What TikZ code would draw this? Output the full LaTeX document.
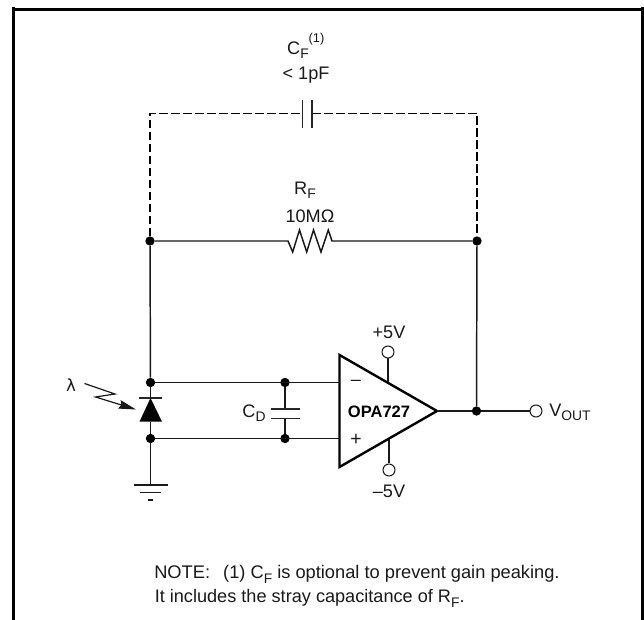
\documentclass[tikz,border=0pt]{standalone}
\usepackage{fontspec}
\setmainfont{Liberation Sans}
\usetikzlibrary{arrows.meta}
\newcommand{\sbs}[1]{\raisebox{-0.42ex}{\fontsize{10.4pt}{11pt}\selectfont #1}}
\newfontfamily\symfont{DejaVu Sans}
\tikzset{
  x=0.75pt,y=-0.75pt,
  wire/.style={line width=1.1pt,draw=black!90},
  dashwire/.style={line width=1.3pt,draw=black,dash pattern=on 6.4pt off 2.6pt},
  dot/.style={circle,fill=black,inner sep=0pt,minimum size=7pt},
  term/.style={circle,draw=black!90,fill=white,line width=0.75pt,inner sep=0pt,minimum size=9pt},
  lbl/.style={inner sep=0pt,font=\fontsize{13.6pt}{15pt}\selectfont,text=black!90},
  plate/.style={line width=1.1pt,draw=black!85},
  frameline/.style={line width=2.25pt,draw=black},
}
\begin{document}
\begin{tikzpicture}
\useasboundingbox (0,0) rectangle (644,620);
% frame
\draw[frameline] (13.5,620) -- (13.5,7.5);
\draw[frameline] (11.5,10) -- (642.5,10);
\draw[frameline] (642.5,7.5) -- (642.5,620);

% junctions
\node[dot] (j1) at (150,241) {};
\node[dot] (j2) at (477,241) {};
\node[dot] (j3) at (150.5,382.5) {};
\node[dot] (j4) at (285,382.5) {};
\node[dot] (j5) at (150.5,438.5) {};
\node[dot] (j6) at (285,438.5) {};
\node[dot] (j7) at (476.5,411) {};

% op amp
\coordinate (inm) at (339.5,382.5);
\coordinate (inp) at (339.5,438.5);
\coordinate (vp) at (388,383);
\coordinate (vm) at (389,438);
\coordinate (oa) at (437,411);
\node[term] (t5p) at (388,352) {};
\node[term] (t5m) at (389,470) {};
\node[term] (tout) at (536,411) {};
\draw[wire] (t5p) -- (vp);
\draw[wire] (t5m) -- (vm);
\draw[line width=1.8pt,line join=miter,fill=white] (339.5,355) -- (339.5,467) -- (oa) -- cycle;
\node[inner sep=0pt,font=\fontsize{12.4pt}{14pt}\selectfont\bfseries] (opa) at (379,411.5) {OPA727};
\node[lbl] (minus) at (356,383) {–};
\node[lbl,font=\fontsize{14.6pt}{15pt}\selectfont] (plus) at (356,439.5) {+};

% wires
\draw[wire] (j1) -- (j3);
\draw[wire] (j3) -- (inm);
\draw[wire] (j5) -- (inp);
\draw[wire] (oa) -- (j7) -- (tout);
\draw[wire] (j7) -- (j2);

% resistor
\coordinate (ra) at (288,241);
\coordinate (rb) at (332,241);
\draw[wire] (j1) -- (ra) -- (292.7,252) -- (299.5,230) -- (306.7,252) -- (313.5,230) -- (321,252) -- (328.3,230) -- (rb) -- (j2);

% feedback capacitor
\coordinate (c1) at (302.3,113.5);
\coordinate (c2) at (312,113.5);
\draw[dashwire] (j1) -- (150,113.5) -- (c1);
\draw[dashwire] (c2) -- (477,113.5) -- (j2);
\draw[plate] (302.3,100) -- (302.3,128);
\draw[plate] (312,100) -- (312,128);

% input capacitor
\coordinate (cd1) at (285,409);
\coordinate (cd2) at (285,418.7);
\draw[wire] (j4) -- (cd1);
\draw[wire] (j6) -- (cd2);
\draw[plate] (271,409) -- (300,409);
\draw[plate] (271,418.7) -- (300,418.7);

% diode
\coordinate (da) at (150.5,398);
\coordinate (db) at (150.5,421.7);
\draw[wire] (j3) -- (da);
\draw[wire] (db) -- (j5);
\draw[plate] (139,398) -- (162,398);
\fill[black] (da) -- (162,421.7) -- (139.5,421.7) -- cycle;

% light arrow
\coordinate (la) at (84.5,383.5);
\coordinate (lb) at (136,409.5);
\draw[line width=0.9pt,draw=black!90,-{Stealth[length=13pt,width=6.5pt,inset=1.5pt]}] (la) -- (115,394) -- (95.5,397) -- (lb);
\node[lbl,font=\fontsize{12.5pt}{13pt}\selectfont] (lam) at (71,385.5) {\symfont λ};

% ground
\coordinate (g0) at (150.5,485);
\draw[wire] (j5) -- (g0);
\draw[wire] (133.5,485) -- (168,485);
\draw[wire] (140,492.5) -- (161,492.5);
\draw[wire] (148,500) -- (153,500);

% labels
\node[lbl] (lcf) at (298,50) {C\sbs{F}};
\node[lbl,font=\fontsize{9.6pt}{10pt}\selectfont] (lcf1) at (316.5,39) {(1)};
\node[lbl] (lcfv) at (306,75) {< 1pF};
\node[lbl] (lrf) at (305,190) {R\sbs{F}};
\node[lbl] (lrfv) at (310,216) {10MΩ};
\node[lbl] (lcd) at (254,413) {C\sbs{D}};
\node[lbl] (l5p) at (389,332) {+5V};
\node[lbl] (l5m) at (389,491) {–5V};
\node[lbl,anchor=west] (lvo) at (549,412) {V\sbs{OUT}};
\node[lbl,font=\fontsize{13.7pt}{15pt}\selectfont,anchor=base west] (n1) at (154,579) {NOTE:\ \ \hspace{2.2pt}(1) C\sbs{F} is optional to prevent gain peaking.};
\node[lbl,anchor=base west] (n2) at (154.5,603) {It includes the stray capacitance of R\sbs{F}.};
\end{tikzpicture}
\end{document}
